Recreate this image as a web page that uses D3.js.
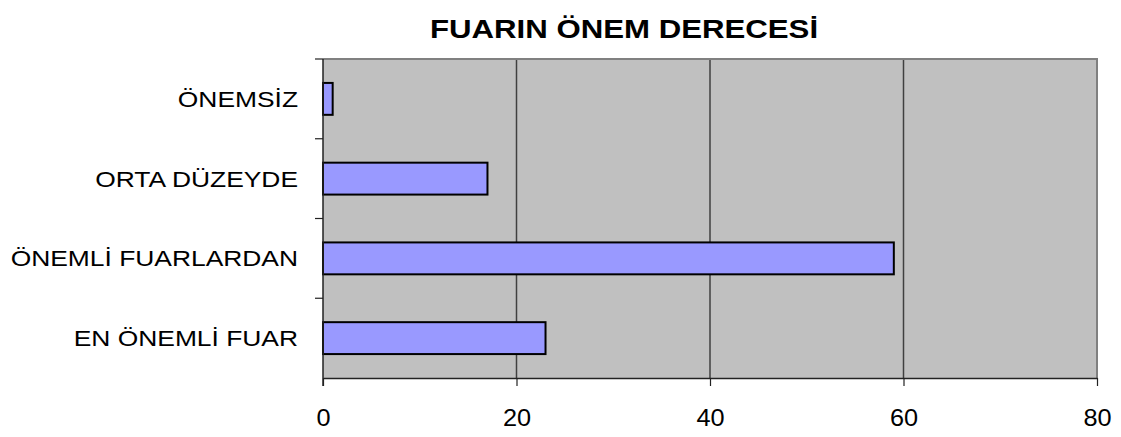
<!DOCTYPE html>
<html>
<head>
<meta charset="utf-8">
<script src="https://cdn.jsdelivr.net/npm/d3@7"></script>
<style>
body { margin: 0; background: #fff; }
text { font-family: "Liberation Sans", Arial, sans-serif; }
</style>
</head>
<body>
<svg width="1121" height="437"></svg>
<script>
var title = "FUARIN ÖNEM DERECESİ"
var categories = ["ÖNEMSİZ", "ORTA DÜZEYDE", "ÖNEMLİ FUARLARDAN", "EN ÖNEMLİ FUAR"]
var values = [1, 17, 59, 23]
var x_ticks = [0, 20, 40, 60, 80]

var plot_left = 323
var plot_right = 1097
var plot_top = 59
var plot_bottom = 378

var svg = d3.select("svg")

var x = d3.scaleLinear()
    .domain([0, 80])
    .range([plot_left, plot_right])

var y = d3.scaleBand()
    .domain(categories)
    .range([plot_top, plot_bottom])
    .paddingInner(0.6)
    .paddingOuter(0.3)

// fond gris
svg.append("rect")
    .attr("x", plot_left)
    .attr("y", plot_top)
    .attr("width", plot_right - plot_left)
    .attr("height", plot_bottom - plot_top)
    .attr("fill", "#c0c0c0")

// grille
svg.append("g")
    .selectAll("line")
    .data(x_ticks.filter(function(d){ return d > 0 && d < 80 }))
    .enter()
    .append("line")
    .attr("x1", x)
    .attr("x2", x)
    .attr("y1", plot_top)
    .attr("y2", plot_bottom)
    .attr("stroke", "#404040")
    .attr("stroke-width", 1.5)

// bord haut et droit
svg.append("path")
    .attr("d", "M" + plot_left + "," + plot_top + "H" + plot_right + "V" + plot_bottom)
    .attr("fill", "none")
    .attr("stroke", "#808080")
    .attr("stroke-width", 2)

// barres
svg.append("g")
    .selectAll("rect")
    .data(values)
    .enter()
    .append("rect")
    .attr("x", x(0))
    .attr("y", function(d, i){ return y(categories[i]) })
    .attr("width", function(d){ return x(d) - x(0) })
    .attr("height", y.bandwidth())
    .attr("fill", "#9999ff")
    .attr("stroke", "black")
    .attr("stroke-width", 2)

// axe x
var x_axis = svg.append("g")
    .attr("transform", "translate(0," + plot_bottom + ")")
    .call(d3.axisBottom(x).tickValues(x_ticks).tickSize(8).tickPadding(24).tickSizeOuter(0))
x_axis.select(".domain").attr("stroke", "#222").attr("stroke-width", 1.5)
x_axis.selectAll(".tick line").attr("stroke", "#222").attr("stroke-width", 1.2)
x_axis.selectAll("text")
    .attr("font-size", 23)
    .attr("font-family", "Liberation Sans, Arial, sans-serif")
    .attr("fill", "black")
    .attr("transform", "scale(1.1,1)")

// axe y : traits entre les catégories
var y_bounds = [plot_top].concat(categories.map(function(c){
    return y(c) + y.bandwidth() + y.step() * y.paddingInner() / 2
}))
svg.append("line")
    .attr("x1", plot_left).attr("x2", plot_left)
    .attr("y1", plot_top).attr("y2", plot_bottom + 8)
    .attr("stroke", "#222").attr("stroke-width", 1.5)
svg.append("g")
    .selectAll("line")
    .data(y_bounds.slice(0, 4))
    .enter()
    .append("line")
    .attr("x1", plot_left - 8)
    .attr("x2", plot_left)
    .attr("y1", function(d){ return d })
    .attr("y2", function(d){ return d })
    .attr("stroke", "#222")
    .attr("stroke-width", 1.2)

svg.append("g")
    .selectAll("text")
    .data(categories)
    .enter()
    .append("text")
    .text(function(d){ return d })
    .attr("transform", function(d){
        return "translate(298," + (y(d) + y.bandwidth() / 2 + 8) + ") scale(1.2,1)"
    })
    .attr("text-anchor", "end")
    .attr("font-size", 22)
    .attr("fill", "black")

svg.append("text")
    .text(title)
    .attr("transform", "translate(624,38) scale(1.2,1)")
    .attr("text-anchor", "middle")
    .attr("font-size", 26)
    .attr("font-weight", "bold")
    .attr("fill", "black")
</script>
</body>
</html>
